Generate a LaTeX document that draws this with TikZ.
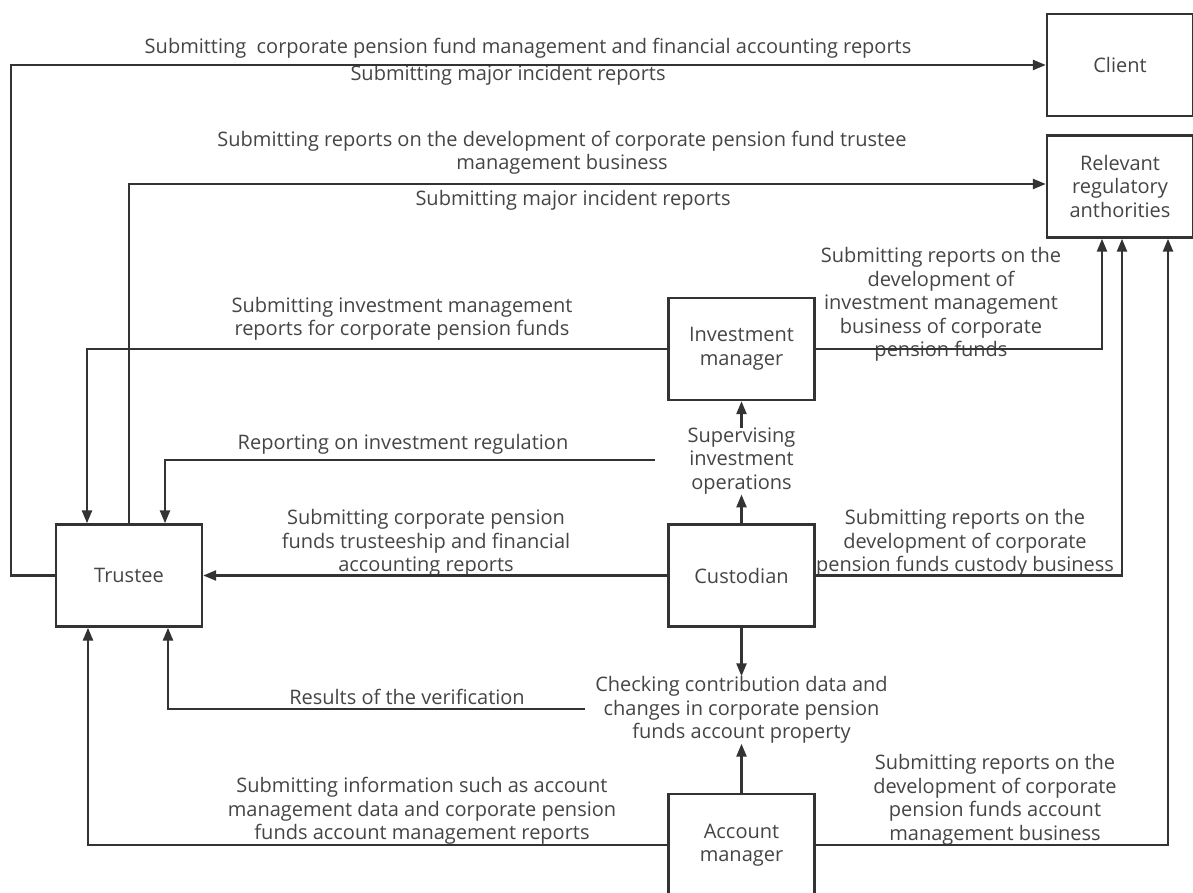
\documentclass[tikz,border=0pt]{standalone}
\usepackage{fontspec}
\setmainfont{Open Sans}
\usetikzlibrary{arrows.meta}
\definecolor{lncol}{HTML}{333333}
\definecolor{txcol}{HTML}{454545}
\tikzset{
  box/.style={draw=lncol, line width=2.4pt, minimum width=146pt, minimum height=102pt, inner sep=0pt, align=center, text=txcol, font=\fontsize{20}{23.5}\selectfont},
  lbl/.style={inner sep=0pt, align=center, text=txcol, font=\fontsize{20}{23.5}\selectfont},
  conn/.style={draw=lncol, line width=2.4pt},
  arr/.style={conn, -{Triangle[length=13pt,width=10pt]}},
}
\begin{document}
\begin{tikzpicture}[x=1pt,y=-1pt]
\clip (0,0) rectangle (1193,893);
\fill[white] (0,0) rectangle (1193,893);
% boxes
\node[box] (client) at (1120,65) {Client};
\node[box] (relevant) at (1120,186.5) {Relevant\\regulatory\\anthorities};
\node[box] (trustee) at (129,575.5) {Trustee};
\node[box] (inv) at (741.5,349) {Investment\\manager};
\node[box] (cust) at (741.5,575.5) {Custodian};
\node[box] (acct) at (741.5,845) {Account\\manager};
% intermediate text nodes
\node[lbl] (sup) at (741.5,461) {Supervising\\investment\\operations};
\node[lbl] (chk) at (741.5,710) {Checking contribution data and\\changes in corporate pension\\funds account property};
\coordinate (supL) at (655,460);
\coordinate (chkL) at (585,709);
% labels
\node[lbl] (t1) at (528,48) {Submitting\ \ corporate pension fund management and financial accounting reports};
\node[lbl] (t2) at (508,75) {Submitting major incident reports};
\node[lbl] (t3) at (562,153) {Submitting reports on the development of corporate pension fund trustee\\management business};
\node[lbl] (t4) at (573,200) {Submitting major incident reports};
\node[lbl] (t5) at (402,319) {Submitting investment management\\reports for corporate pension funds};
\node[lbl] (t6) at (941,304.5) {Submitting reports on the\\development of\\investment management\\business of corporate\\pension funds};
\node[lbl] (t7) at (403,444) {Reporting on investment regulation};
\node[lbl] (t8) at (426,543) {Submitting corporate pension\\funds trusteeship and financial\\accounting reports};
\node[lbl] (t9) at (965,543) {Submitting reports on the\\development of corporate\\pension funds custody business};
\node[lbl] (t10) at (407,697) {Results of the verification};
\node[lbl] (t11) at (422,811) {Submitting information such as account\\management data and corporate pension\\funds account management reports};
\node[lbl] (t12) at (995,800) {Submitting reports on the\\development of corporate\\pension funds account\\management business};
% connectors
\draw[arr] (trustee.west) -- ++(-44,0) |- (client.west);
\draw[arr] (trustee.north) |- ([yshift=2.5pt]relevant.west);
\draw[arr] (inv.west) -| ([xshift=-42pt]trustee.north);
\draw[arr] (inv.east) -| ([xshift=-18pt]relevant.south);
\draw[arr] (supL) -| ([xshift=36pt]trustee.north);
\draw[arr] (sup.north) -- (inv.south);
\draw[arr] (cust.north) -- (sup.south);
\draw[arr] (cust.west) -- (trustee.east);
\draw[arr] (cust.east) -| ([xshift=2pt]relevant.south);
\draw[arr] (cust.south) -- (chk.north);
\draw[arr] (acct.north) -- (chk.south);
\draw[arr] (chkL) -| ([xshift=39pt]trustee.south);
\draw[arr] (acct.west) -| ([xshift=-41pt]trustee.south);
\draw[arr] (acct.east) -| ([xshift=48pt]relevant.south);
\end{tikzpicture}
\end{document}
